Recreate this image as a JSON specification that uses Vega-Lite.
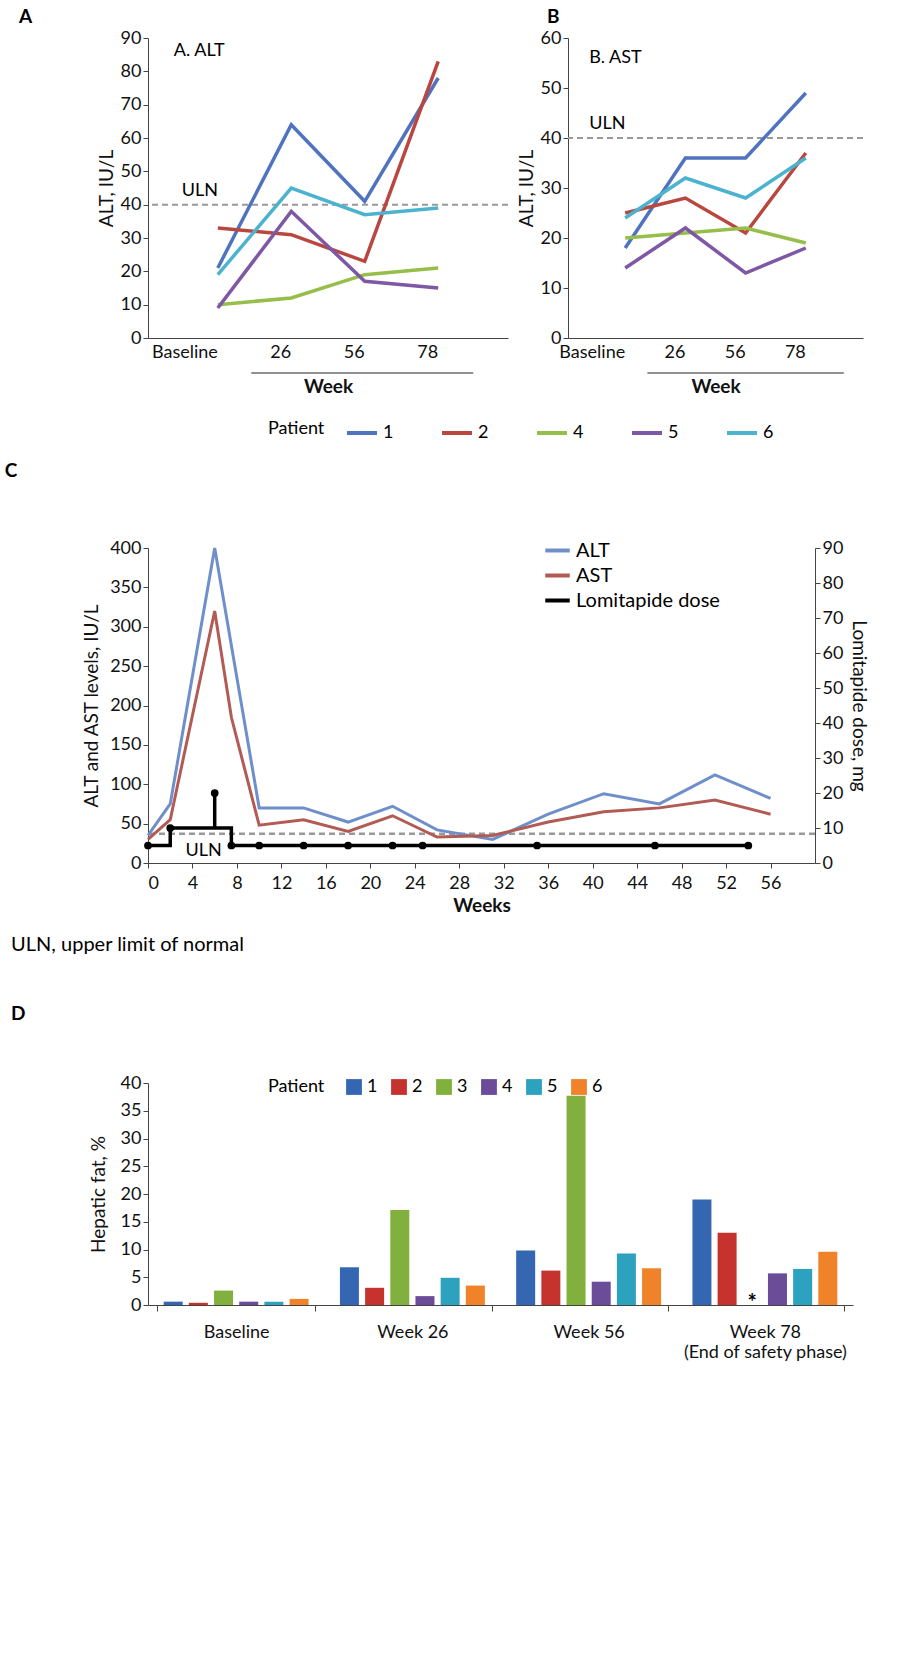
{
  "$schema": "https://vega.github.io/schema/vega-lite/v6.json",
  "background": "white",
  "padding": {"left": 4, "top": 8, "right": 5, "bottom": 5},
  "config": {
    "font": "Lato",
    "view": {"stroke": null},
    "axis": {"labelFontSize": 18, "titleFontSize": 19, "titleFontWeight": "normal", "labelColor": "#111", "titleColor": "#111", "domainColor": "#444", "tickColor": "#444", "grid": false},
    "title": {"fontSize": 19, "anchor": "start", "fontWeight": "bold", "color": "#000"},
    "legend": {"labelFontSize": 18, "titleFontSize": 18, "titleFontWeight": "normal"}
  },
  "datasets": {
    "alt": [
      {"patient": "1", "visit": "Baseline", "v": 21}, {"patient": "1", "visit": "26", "v": 64}, {"patient": "1", "visit": "56", "v": 41}, {"patient": "1", "visit": "78", "v": 78},
      {"patient": "2", "visit": "Baseline", "v": 33}, {"patient": "2", "visit": "26", "v": 31}, {"patient": "2", "visit": "56", "v": 23}, {"patient": "2", "visit": "78", "v": 83},
      {"patient": "4", "visit": "Baseline", "v": 10}, {"patient": "4", "visit": "26", "v": 12}, {"patient": "4", "visit": "56", "v": 19}, {"patient": "4", "visit": "78", "v": 21},
      {"patient": "5", "visit": "Baseline", "v": 9}, {"patient": "5", "visit": "26", "v": 38}, {"patient": "5", "visit": "56", "v": 17}, {"patient": "5", "visit": "78", "v": 15},
      {"patient": "6", "visit": "Baseline", "v": 19}, {"patient": "6", "visit": "26", "v": 45}, {"patient": "6", "visit": "56", "v": 37}, {"patient": "6", "visit": "78", "v": 39}
    ],
    "ast": [
      {"patient": "1", "visit": "Baseline", "v": 18}, {"patient": "1", "visit": "26", "v": 36}, {"patient": "1", "visit": "56", "v": 36}, {"patient": "1", "visit": "78", "v": 49},
      {"patient": "2", "visit": "Baseline", "v": 25}, {"patient": "2", "visit": "26", "v": 28}, {"patient": "2", "visit": "56", "v": 21}, {"patient": "2", "visit": "78", "v": 37},
      {"patient": "4", "visit": "Baseline", "v": 20}, {"patient": "4", "visit": "26", "v": 21}, {"patient": "4", "visit": "56", "v": 22}, {"patient": "4", "visit": "78", "v": 19},
      {"patient": "5", "visit": "Baseline", "v": 14}, {"patient": "5", "visit": "26", "v": 22}, {"patient": "5", "visit": "56", "v": 13}, {"patient": "5", "visit": "78", "v": 18},
      {"patient": "6", "visit": "Baseline", "v": 24}, {"patient": "6", "visit": "26", "v": 32}, {"patient": "6", "visit": "56", "v": 28}, {"patient": "6", "visit": "78", "v": 36}
    ],
    "enz": [
      {"s": "ALT", "w": 0, "v": 35}, {"s": "ALT", "w": 2, "v": 75}, {"s": "ALT", "w": 6, "v": 400}, {"s": "ALT", "w": 10, "v": 70}, {"s": "ALT", "w": 14, "v": 70}, {"s": "ALT", "w": 18, "v": 52}, {"s": "ALT", "w": 22, "v": 72}, {"s": "ALT", "w": 26, "v": 42}, {"s": "ALT", "w": 31, "v": 30}, {"s": "ALT", "w": 36, "v": 62}, {"s": "ALT", "w": 41, "v": 88}, {"s": "ALT", "w": 46, "v": 75}, {"s": "ALT", "w": 51, "v": 112}, {"s": "ALT", "w": 56, "v": 82},
      {"s": "AST", "w": 0, "v": 30}, {"s": "AST", "w": 2, "v": 55}, {"s": "AST", "w": 6, "v": 320}, {"s": "AST", "w": 7.5, "v": 185}, {"s": "AST", "w": 10, "v": 48}, {"s": "AST", "w": 14, "v": 55}, {"s": "AST", "w": 18, "v": 40}, {"s": "AST", "w": 22, "v": 60}, {"s": "AST", "w": 26, "v": 33}, {"s": "AST", "w": 31, "v": 35}, {"s": "AST", "w": 36, "v": 52}, {"s": "AST", "w": 41, "v": 65}, {"s": "AST", "w": 46, "v": 70}, {"s": "AST", "w": 51, "v": 80}, {"s": "AST", "w": 56, "v": 62}
    ],
    "doseLine": [
      {"i": 1, "w": 0, "d": 5}, {"i": 2, "w": 2, "d": 5}, {"i": 3, "w": 2, "d": 10}, {"i": 4, "w": 6, "d": 10}, {"i": 5, "w": 6, "d": 20}, {"i": 6, "w": 6, "d": 10}, {"i": 7, "w": 7.5, "d": 10}, {"i": 8, "w": 7.5, "d": 5}, {"i": 9, "w": 54, "d": 5}
    ],
    "dosePts": [
      {"w": 0, "d": 5}, {"w": 2, "d": 10}, {"w": 6, "d": 20}, {"w": 7.5, "d": 5}, {"w": 10, "d": 5}, {"w": 14, "d": 5}, {"w": 18, "d": 5}, {"w": 22, "d": 5}, {"w": 24.7, "d": 5}, {"w": 35, "d": 5}, {"w": 45.6, "d": 5}, {"w": 54, "d": 5}
    ],
    "fat": [
      {"week": "Baseline", "patient": "1", "v": 0.6}, {"week": "Baseline", "patient": "2", "v": 0.4}, {"week": "Baseline", "patient": "3", "v": 2.6}, {"week": "Baseline", "patient": "4", "v": 0.6}, {"week": "Baseline", "patient": "5", "v": 0.6}, {"week": "Baseline", "patient": "6", "v": 1.1},
      {"week": "Week 26", "patient": "1", "v": 6.8}, {"week": "Week 26", "patient": "2", "v": 3.1}, {"week": "Week 26", "patient": "3", "v": 17.1}, {"week": "Week 26", "patient": "4", "v": 1.6}, {"week": "Week 26", "patient": "5", "v": 4.9}, {"week": "Week 26", "patient": "6", "v": 3.5},
      {"week": "Week 56", "patient": "1", "v": 9.8}, {"week": "Week 56", "patient": "2", "v": 6.2}, {"week": "Week 56", "patient": "3", "v": 37.7}, {"week": "Week 56", "patient": "4", "v": 4.2}, {"week": "Week 56", "patient": "5", "v": 9.3}, {"week": "Week 56", "patient": "6", "v": 6.6},
      {"week": "Week 78", "patient": "1", "v": 19}, {"week": "Week 78", "patient": "2", "v": 13}, {"week": "Week 78", "patient": "3", "v": null}, {"week": "Week 78", "patient": "4", "v": 5.7}, {"week": "Week 78", "patient": "5", "v": 6.5}, {"week": "Week 78", "patient": "6", "v": 9.6}
    ]
  },
  "vconcat": [
    {
      "hconcat": [
        {
          "title": {"text": "A", "offset": 2, "dx": -78},
          "width": 360, "height": 300,
          "layer": [
            {"data": {"values": [{}]}, "mark": {"type": "rule", "strokeDash": [6, 4], "color": "#999", "strokeWidth": 2}, "encoding": {"y": {"datum": 40}}},
            {"data": {"values": [{}]}, "mark": {"type": "rule", "color": "#222", "strokeWidth": 1, "xOffset": -40, "x2Offset": 35}, "encoding": {"x": {"datum": "26", "type": "ordinal"}, "x2": {"datum": "78"}, "y": {"datum": -10.5}}},
            {"data": {"values": [{}]}, "mark": {"type": "text", "text": "ULN", "fontSize": 18, "align": "left", "dx": -36, "dy": -14}, "encoding": {"x": {"datum": "Baseline", "type": "ordinal"}, "y": {"datum": 40}}},
            {"data": {"values": [{}]}, "mark": {"type": "text", "text": "A. ALT", "fontSize": 18, "align": "left", "dx": -44}, "encoding": {"x": {"datum": "Baseline", "type": "ordinal"}, "y": {"datum": 86}}},
            {
              "data": {"name": "alt"},
              "mark": {"type": "line", "strokeWidth": 3.5},
              "encoding": {
                "x": {"field": "visit", "type": "ordinal", "sort": ["Baseline", "26", "56", "78"], "scale": {"padding": 0.9}, "axis": {"labelAngle": 0, "title": "Week", "ticks": false, "labelPadding": 14, "titlePadding": 16, "titleFontWeight": "bold"}},
                "y": {"field": "v", "type": "quantitative", "scale": {"domain": [0, 90]}, "axis": {"tickCount": 9, "title": "ALT, IU/L", "titlePadding": 4}},
                "color": {"field": "patient", "type": "nominal", "scale": {"domain": ["1", "2", "4", "5", "6"], "range": ["#4F73BE", "#B9473F", "#96BE4A", "#7E57A5", "#4CB3CE"]}, "legend": {"title": "Patient", "orient": "none", "legendX": 120, "legendY": 378, "direction": "horizontal", "titleOrient": "left", "titlePadding": 20, "symbolType": "stroke", "symbolStrokeWidth": 4, "symbolSize": 900, "columnPadding": 40}}
              }
            }
          ]
        },
        {
          "title": {"text": "B", "offset": 2, "dx": 30},
          "width": 295, "height": 300,
          "layer": [
            {"data": {"values": [{}]}, "mark": {"type": "rule", "strokeDash": [6, 4], "color": "#999", "strokeWidth": 2}, "encoding": {"y": {"datum": 40}}},
            {"data": {"values": [{}]}, "mark": {"type": "rule", "color": "#222", "strokeWidth": 1, "xOffset": -38, "x2Offset": 38}, "encoding": {"x": {"datum": "26", "type": "ordinal"}, "x2": {"datum": "78"}, "y": {"datum": -7}}},
            {"data": {"values": [{}]}, "mark": {"type": "text", "text": "ULN", "fontSize": 18, "align": "left", "dy": -14, "dx": -36}, "encoding": {"x": {"datum": "Baseline", "type": "ordinal"}, "y": {"datum": 40}}},
            {"data": {"values": [{}]}, "mark": {"type": "text", "text": "B. AST", "fontSize": 18, "align": "left", "dx": -36}, "encoding": {"x": {"datum": "Baseline", "type": "ordinal"}, "y": {"datum": 56}}},
            {
              "data": {"name": "ast"},
              "mark": {"type": "line", "strokeWidth": 3.5},
              "encoding": {
                "x": {"field": "visit", "type": "ordinal", "sort": ["Baseline", "26", "56", "78"], "scale": {"padding": 0.9}, "axis": {"labelAngle": 0, "title": "Week", "ticks": false, "labelPadding": 14, "titlePadding": 16, "titleFontWeight": "bold"}},
                "y": {"field": "v", "type": "quantitative", "scale": {"domain": [0, 60]}, "axis": {"tickCount": 6, "title": "ALT, IU/L", "titlePadding": 4}},
                "color": {"field": "patient", "type": "nominal"}
              }
            }
          ]
        }
      ],
      "spacing": 8
    },
    {
      "title": {"text": "C", "offset": 85, "dy": 30, "dx": -78},
      "width": 667, "height": 315,
      "layer": [
        {
          "layer": [
            {"data": {"values": [{}]}, "mark": {"type": "rule", "strokeDash": [6, 4], "color": "#999", "strokeWidth": 2.5}, "encoding": {"y": {"datum": 37, "type": "quantitative", "scale": {"domain": [0, 400]}, "axis": {"tickCount": 8, "title": "ALT and AST levels, IU/L", "titlePadding": 8}}}},
            {"data": {"values": [{}]}, "mark": {"type": "text", "text": "ULN", "fontSize": 18, "dy": 2}, "encoding": {"x": {"datum": 5, "type": "quantitative"}, "y": {"datum": 18, "type": "quantitative"}}},
            {
              "data": {"name": "enz"},
              "mark": {"type": "line", "strokeWidth": 3},
              "encoding": {
                "x": {"field": "w", "type": "quantitative", "scale": {"domain": [0, 56]}, "axis": {"values": [0, 4, 8, 12, 16, 20, 24, 28, 32, 36, 40, 44, 48, 52, 56], "title": "Weeks", "titleFontWeight": "bold", "labelPadding": 6}},
                "y": {"field": "v", "type": "quantitative"},
                "color": {"field": "s", "type": "nominal", "scale": {"domain": ["ALT", "AST", "Lomitapide dose"], "range": ["#6F8FCB", "#B25B55", "#000000"]}, "legend": {"title": null, "orient": "none", "legendX": 395, "legendY": -12, "symbolType": "stroke", "symbolStrokeWidth": 4, "symbolSize": 600, "labelFontSize": 20, "rowPadding": 0}}
              }
            }
          ]
        },
        {
          "layer": [
            {
              "data": {"name": "doseLine"},
              "mark": {"type": "line", "strokeWidth": 3.5},
              "encoding": {
                "x": {"field": "w", "type": "quantitative"},
                "y": {"field": "d", "type": "quantitative", "scale": {"domain": [0, 90]}, "axis": {"orient": "right", "tickCount": 9, "title": "Lomitapide dose, mg", "titleAngle": 90, "titlePadding": 6}},
                "order": {"field": "i"},
                "color": {"datum": "Lomitapide dose"}
              }
            },
            {
              "data": {"name": "dosePts"},
              "mark": {"type": "circle", "size": 60, "opacity": 1, "color": "#000"},
              "encoding": {"x": {"field": "w", "type": "quantitative"}, "y": {"field": "d", "type": "quantitative"}}
            }
          ]
        }
      ],
      "resolve": {"scale": {"y": "independent"}}
    },
    {
      "title": {"text": "ULN, upper limit of normal", "fontWeight": "normal", "fontSize": 20, "dx": -78, "offset": 50, "subtitle": "D", "subtitleFontWeight": "bold", "subtitleFontSize": 19, "subtitlePadding": 50, "subtitleColor": "#000"},
      "width": 705, "height": 222,
      "layer": [
        {
          "data": {"name": "fat"},
          "mark": {"type": "bar", "width": 19},
          "encoding": {
            "x": {"field": "week", "type": "nominal", "scale": {"paddingInner": 0.1, "paddingOuter": 0.05}, "axis": {"labelAngle": 0, "title": null, "ticks": true, "tickBand": "extent", "tickSize": 6, "labelPadding": 12, "labelExpr": "datum.value == 'Week 78' ? ['Week 78', '(End of safety phase)'] : datum.value"}},
            "xOffset": {"field": "patient", "type": "nominal", "scale": {"paddingInner": 0, "paddingOuter": 0.15}},
            "y": {"field": "v", "type": "quantitative", "scale": {"domain": [0, 40]}, "axis": {"tickCount": 8, "title": "Hepatic fat, %", "titlePadding": 12}},
            "color": {"field": "patient", "type": "nominal", "scale": {"domain": ["1", "2", "3", "4", "5", "6"], "range": ["#3566B2", "#C6332E", "#82B03E", "#6B4C98", "#2CA2BF", "#F0832A"]}, "legend": {"title": "Patient", "orient": "none", "legendX": 120, "legendY": -5, "direction": "horizontal", "symbolType": "square", "symbolSize": 250, "columnPadding": 12, "titleOrient": "left", "titlePadding": 20}}
          }
        },
        {
          "data": {"values": [{"week": "Week 78", "patient": "3", "label": "*"}]},
          "mark": {"type": "text", "fontSize": 22, "fontWeight": "bold", "dy": -2},
          "encoding": {
            "x": {"field": "week", "type": "nominal"},
            "xOffset": {"field": "patient", "type": "nominal"},
            "y": {"datum": 0},
            "text": {"field": "label"}
          }
        }
      ]
    }
  ],
  "spacing": 20,
  "resolve": {"scale": {"color": "independent"}}
}
